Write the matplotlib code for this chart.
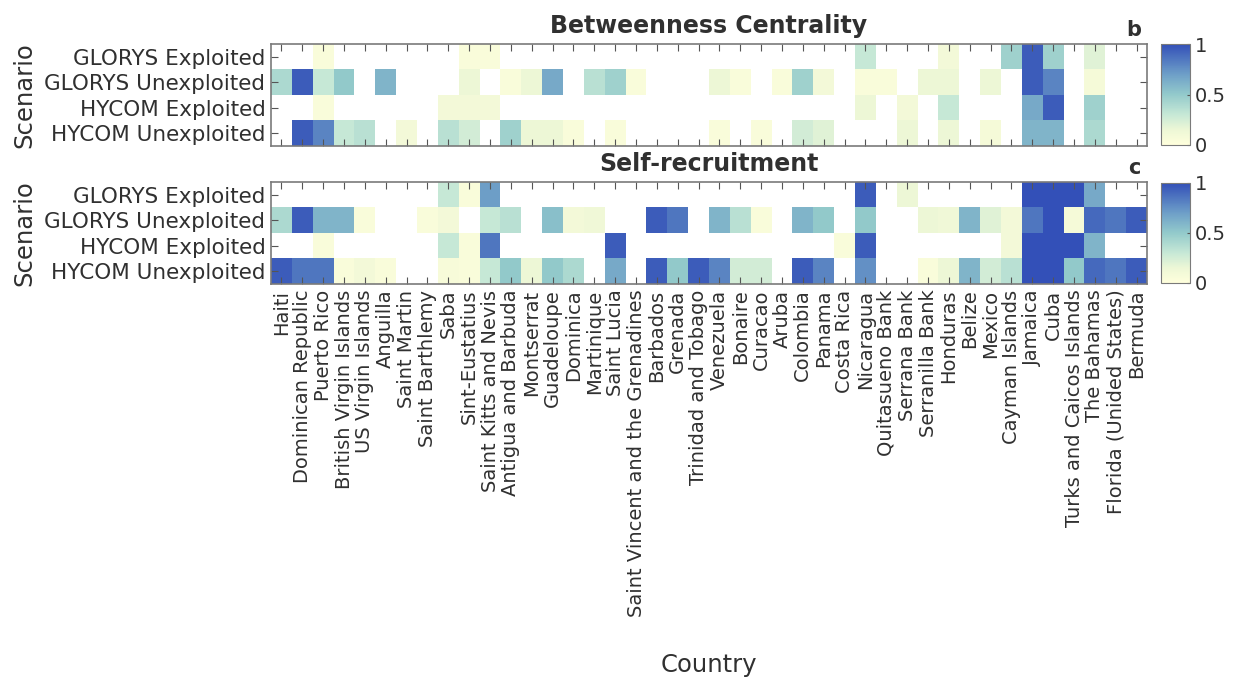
"""Betweenness centrality and self-recruitment heatmaps per country and scenario."""
import numpy as np
import matplotlib

matplotlib.use("Agg")
import matplotlib.pyplot as plt
from matplotlib.colors import LinearSegmentedColormap

plt.rcParams["font.family"] = ["DejaVu Sans"]
plt.rcParams["text.color"] = "#303030"
plt.rcParams["xtick.labelcolor"] = "#303030"
plt.rcParams["ytick.labelcolor"] = "#303030"
plt.rcParams["axes.labelcolor"] = "#303030"

countries = [
    "Haiti", "Dominican Republic", "Puerto Rico", "British Virgin Islands",
    "US Virgin Islands", "Anguilla", "Saint Martin", "Saint Barthlemy", "Saba",
    "Sint-Eustatius", "Saint Kitts and Nevis", "Antigua and Barbuda", "Montserrat",
    "Guadeloupe", "Dominica", "Martinique", "Saint Lucia",
    "Saint Vincent and the Grenadines", "Barbados", "Grenada", "Trinidad and Tobago",
    "Venezuela", "Bonaire", "Curacao", "Aruba", "Colombia", "Panama", "Costa Rica",
    "Nicaragua", "Quitasueno Bank", "Serrana Bank", "Serranilla Bank", "Honduras",
    "Belize", "Mexico", "Cayman Islands", "Jamaica", "Cuba",
    "Turks and Caicos Islands", "The Bahamas", "Florida (Unided States)", "Bermuda",
]
scenarios = ["GLORYS Exploited", "GLORYS Unexploited", "HYCOM Exploited", "HYCOM Unexploited"]

# Betweenness centrality (0 = no value, drawn white)
bc_glorys_exp = [0, 0, .05, 0, 0, 0, 0, 0, 0, .05,
                 .05, 0, 0, 0, 0, 0, 0, 0, 0, 0,
                 0, 0, 0, 0, 0, 0, 0, 0, .3, 0,
                 0, 0, .1, 0, 0, .45, .95, .45, 0, .2,
                 0, 0]
bc_glorys_unexp = [.4, .95, .3, .5, 0, .6, 0, 0, 0, .15,
                   0, .05, .15, .65, 0, .35, .45, .05, 0, 0,
                   0, .15, .05, 0, .05, .45, .1, 0, .05, .05,
                   0, .15, .15, 0, .15, 0, .95, .8, 0, .08,
                   0, 0]
bc_hycom_exp = [0, 0, .05, 0, 0, 0, 0, 0, .1, .1,
                .1, 0, 0, 0, 0, 0, 0, 0, 0, 0,
                0, 0, 0, 0, 0, 0, 0, 0, .15, 0,
                .1, 0, .3, 0, 0, 0, .65, .95, 0, .45,
                0, 0]
bc_hycom_unexp = [0, .95, .8, .3, .35, 0, .1, 0, .35, .25,
                  0, .45, .15, .15, .05, 0, .05, 0, 0, 0,
                  0, .05, 0, .05, 0, .25, .2, 0, 0, 0,
                  .15, 0, .15, 0, .08, 0, .6, .6, 0, .4,
                  0, 0]

# Self-recruitment
sr_glorys_exp = [0, 0, 0, 0, 0, 0, 0, 0, .3, .05,
                 .7, 0, 0, 0, 0, 0, 0, 0, 0, 0,
                 0, 0, 0, 0, 0, 0, 0, 0, .95, 0,
                 .15, 0, 0, 0, 0, 0, 1, 1, 1, .65,
                 0, 0]
sr_glorys_unexp = [.4, .95, .6, .6, .05, 0, 0, .05, .1, 0,
                   .3, .35, 0, .55, .1, .12, 0, 0, .95, .85,
                   0, .6, .35, .05, 0, .6, .5, 0, .5, 0,
                   0, .15, .12, .6, .2, .1, .85, 1, .08, .9,
                   .85, .95]
sr_hycom_exp = [0, 0, .05, 0, 0, 0, 0, 0, .3, .05,
                .85, 0, 0, 0, 0, 0, .95, 0, 0, 0,
                0, 0, 0, 0, 0, 0, 0, .05, .95, 0,
                0, 0, 0, 0, 0, .1, 1, 1, 1, .6,
                0, 0]
sr_hycom_unexp = [.95, .85, .85, .05, .1, .05, 0, 0, .07, .05,
                  .3, .5, .15, .5, .4, 0, .65, 0, .95, .5,
                  .95, .8, .25, .25, 0, .95, .8, 0, .75, 0,
                  0, .05, .15, .6, .25, .35, 1, 1, .5, .9,
                  .85, .95]

cmap = LinearSegmentedColormap.from_list("ylgnbu_m", [
    (0.0, "#FFFFDC"), (0.15, "#EDF7D6"), (0.3, "#C6E8D6"), (0.5, "#93CACB"),
    (0.7, "#6E9FC8"), (0.85, "#5077C0"), (1.0, "#3350B8")])
cmap.set_bad("white")

W, H = 1234, 681
fig = plt.figure(figsize=(W / 100, H / 100), dpi=100)
edge = "#7a7a7a"


def heatmap(rows, rect, cb_rect, title, letter, show_x):
    ax = fig.add_axes(rect)
    data = np.ma.masked_equal(np.array(rows, dtype=float), 0)
    im = ax.imshow(data, cmap=cmap, vmin=0, vmax=1, aspect="auto",
                   interpolation="nearest")
    ax.set_yticks(range(len(scenarios)))
    ax.set_yticklabels(scenarios, fontsize=15.5)
    ax.set_xticks(range(len(countries)))
    if show_x:
        ax.set_xticklabels(countries, rotation=90, fontsize=14)
        ax.set_xlabel("Country", fontsize=17.5, labelpad=26)
    else:
        ax.set_xticklabels([])
    ax.set_ylabel("Scenario", fontsize=17.5, labelpad=6)
    ax.tick_params(direction="in", length=5, width=0.8, color="#555555",
                   top=True, right=True, pad=4)
    for s in ax.spines.values():
        s.set_color(edge)
        s.set_linewidth(1.2)
    ax.set_title(title, fontsize=17, fontweight="bold", pad=8)
    ax.text(0.985, 1.04, letter, transform=ax.transAxes, ha="center",
            va="bottom", fontsize=15, fontweight="bold")

    cax = fig.add_axes(cb_rect)
    cb = fig.colorbar(im, cax=cax, ticks=[0, 0.5, 1])
    cb.ax.set_yticklabels(["0", "0.5", "1"], fontsize=14)
    cb.ax.tick_params(length=2, direction="in", color="#555555")
    cb.outline.set_edgecolor(edge)
    return ax


left, width = 271 / W, 876 / W
h = 102 / H
cb_left, cb_w = 1161 / W, 29 / W

heatmap([bc_glorys_exp, bc_glorys_unexp, bc_hycom_exp, bc_hycom_unexp],
        [left, 1 - 146 / H, width, h], [cb_left, 1 - 145 / H, cb_w, 101 / H],
        "Betweenness Centrality", "b", False)
heatmap([sr_glorys_exp, sr_glorys_unexp, sr_hycom_exp, sr_hycom_unexp],
        [left, 1 - 284 / H, width, h], [cb_left, 1 - 283 / H, cb_w, 100 / H],
        "Self-recruitment", "c", True)

fig.savefig("out.png", dpi=100)
